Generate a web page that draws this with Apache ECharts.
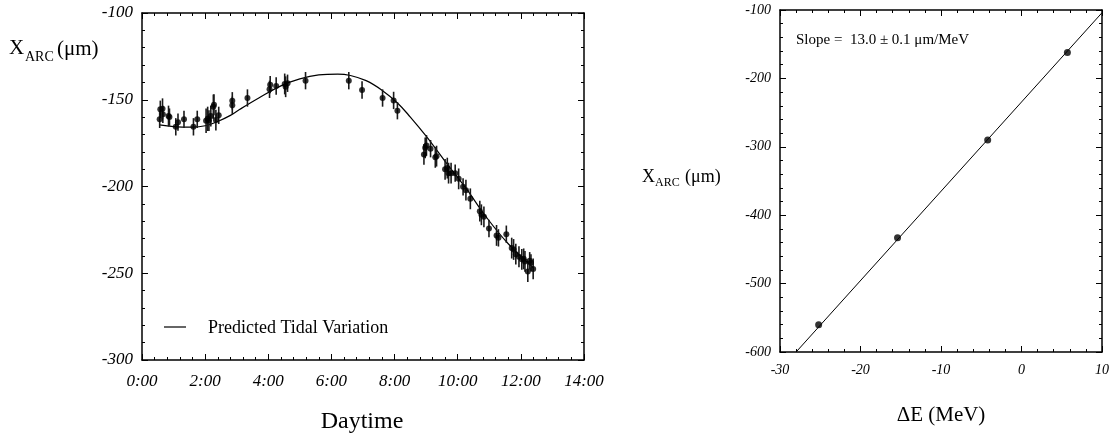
<!DOCTYPE html>
<html><head><meta charset="utf-8">
<script src="https://cdn.jsdelivr.net/npm/echarts@6/dist/echarts.min.js"></script>
<style>html,body{margin:0;padding:0;background:#fff}#c{width:1112px;height:436px}</style>
</head><body><div id="c"></div>
<script>
// ---- Left panel: measured X_ARC vs daytime (hours) ----
const timeHours = [0.56,0.58,0.65,0.66,0.84,0.87,1.07,1.14,1.33,1.63,1.75,2.03,2.08,2.12,2.18,2.26,2.28,2.34,2.43,2.86,2.86,3.34,4.04,4.06,4.25,4.52,4.55,4.61,5.18,6.55,6.97,7.62,7.97,8.09,
  8.93,8.97,9.01,9.14,9.29,9.33,9.60,9.67,9.71,9.79,9.92,10.03,10.17,10.26,10.40,10.70,10.75,10.83,10.99,11.23,11.29,11.54,11.71,11.77,11.84,11.94,12.03,12.09,12.13,12.22,12.28,12.32,12.39];
const xArc = [-161.3,-155.5,-155.2,-158.4,-159.4,-160.0,-165.6,-162.9,-161.3,-165.6,-161.3,-162.1,-161.0,-162.0,-159.4,-154.0,-152.9,-161.7,-159.0,-150.6,-153.2,-149.0,-144.0,-141.3,-142.1,-140.9,-142.5,-140.5,-139.0,-139.0,-144.4,-149.0,-150.4,-156.3,
  -181.5,-177.7,-176.3,-178.2,-183.2,-182.5,-190.1,-189.4,-192.3,-192.3,-192.3,-195.6,-200.2,-202.1,-207.1,-214.2,-216.3,-217.5,-224.2,-228.2,-229.6,-227.5,-235.5,-236.3,-239.0,-240.5,-242.0,-241.7,-243.2,-249.0,-242.8,-244.0,-247.5];
const xArcErr = [5,5,6,5,6,5,5,5,5,5,5,7,7,6,6,7,6,6,5,5,5,5,5,5,5,6,6,5,5,5,5,5,5,5,
  6,6,6,5,6,6,6,6,6,6,5,6,5,6,6,6,6,6,5,6,5,5,6,6,6,6,6,6,6,6,5,5,6];
const curveHours = [0.55,1.0,1.6,2.0,2.4,2.8,3.1,3.7,4.4,5.0,5.6,6.2,6.6,7.1,7.6,8.1,8.5,9.0,9.6,10.3,10.9,11.6,12.4];
const curveVals  = [-164.5,-165.5,-165.8,-165.0,-162.5,-159.0,-155.5,-149.0,-142.0,-138.0,-135.7,-135.2,-136.0,-139.0,-144.5,-152.0,-160.0,-171.0,-185.5,-202.0,-217.5,-233.0,-247.0];
const timeTicks = [0,2,4,6,8,10,12,14];
const arcTicks = [-300,-250,-200,-150,-100];

// ---- Right panel: X_ARC vs energy offset ----
const deltaE = [-25.2,-15.4,-4.2,5.7];
const xArc2 = [-560,-433,-290,-162];
const fitDE = [-28.0,10.0];
const fitX = [-600,-104];
const eTicks = [-30,-20,-10,0,10];
const arc2Ticks = [-600,-500,-400,-300,-200,-100];

const SERIF = '"Liberation Serif","DejaVu Serif",serif';

function axis(gridIndex, min, max, interval, position, showLabel, fmt, margin, fs) {
  return {
    type:'value', gridIndex, min, max, interval, position,
    axisLine:{show:true, onZero:false, lineStyle:{color:'#000', width:1.5}},
    axisTick:{show:true, inside:true, length:6, lineStyle:{color:'#000', width:1}},
    minorTick:{show:true, splitNumber:5, length:3, lineStyle:{color:'#000', width:1}},
    splitLine:{show:false}, minorSplitLine:{show:false},
    axisLabel:{show:showLabel, margin:margin, showMinLabel:true, showMaxLabel:true, formatter:fmt,
      fontFamily:SERIF, fontStyle:'italic', fontSize:fs||14, color:'#000'}
  };
}

function txt(x, y, s, fs, align) {
  return {type:'text', x, y, style:{text:s, fontFamily:SERIF, fontSize:fs, fill:'#000', align:align||'left', verticalAlign:'middle'}};
}

const chart = echarts.init(document.getElementById('c'), null, {renderer:'canvas'});
const errData = timeHours.map((t,i)=>[t, xArc[i], xArcErr[i]]);

function errRender(params, api) {
  const x = api.value(0), y = api.value(1), e = api.value(2);
  const a = api.coord([x, y + e]), b = api.coord([x, y - e]);
  return {type:'line', shape:{x1:a[0], y1:a[1], x2:b[0], y2:b[1]}, style:{stroke:'#1a1a1a', lineWidth:1.6}};
}

chart.setOption({
  animation:false,
  backgroundColor:'#fff',
  grid:[
    {left:142, top:13, width:442, height:347},
    {left:780, top:10, width:322, height:342}
  ],
  xAxis:[
    axis(0,0,14,2,'bottom',true,v=>v+':00',13,17),
    axis(0,0,14,2,'top',false,null,8),
    axis(1,-30,10,10,'bottom',true,null,11,14),
    axis(1,-30,10,10,'top',false,null,8)
  ],
  yAxis:[
    axis(0,-300,-100,50,'left',true,null,9,17),
    axis(0,-300,-100,50,'right',false,null,8),
    axis(1,-600,-100,100,'left',true,null,9,14),
    axis(1,-600,-100,100,'right',false,null,8)
  ],
  series:[
    {type:'line', xAxisIndex:0, yAxisIndex:0, data:curveHours.map((h,i)=>[h,curveVals[i]]), smooth:0.4, showSymbol:false, lineStyle:{color:'#000', width:1.2}, z:3},
    {type:'custom', xAxisIndex:0, yAxisIndex:0, data:errData, renderItem:errRender, encode:{x:0,y:1}, z:4},
    {type:'scatter', xAxisIndex:0, yAxisIndex:0, data:errData.map(d=>[d[0],d[1]]), symbolSize:6, itemStyle:{color:'#000'}, z:5},
    {type:'line', xAxisIndex:2, yAxisIndex:2, data:fitDE.map((e,i)=>[e,fitX[i]]), showSymbol:false, lineStyle:{color:'#000', width:1}, z:3},
    {type:'scatter', xAxisIndex:2, yAxisIndex:2, data:deltaE.map((e,i)=>[e,xArc2[i]]), symbolSize:7, itemStyle:{color:'#000'}, z:5}
  ],
  graphic:[
    // left y-axis title
    txt(9, 48, 'X', 21),
    txt(25, 57, 'ARC', 14),
    txt(57, 49, '(μm)', 21),
    // right y-axis title
    txt(642, 177, 'X', 18),
    txt(655, 183, 'ARC', 12),
    txt(685, 177, '(μm)', 18),
    txt(362, 422, 'Daytime', 24, 'center'),
    txt(941, 415, 'ΔE (MeV)', 21, 'center'),
    txt(796, 40, 'Slope =  13.0 ± 0.1 μm/MeV', 15),
    {type:'line', shape:{x1:164, y1:327, x2:186, y2:327}, style:{stroke:'#000', lineWidth:1.2}},
    txt(208, 328, 'Predicted Tidal Variation', 18)
  ]
});
</script>
</body></html>
